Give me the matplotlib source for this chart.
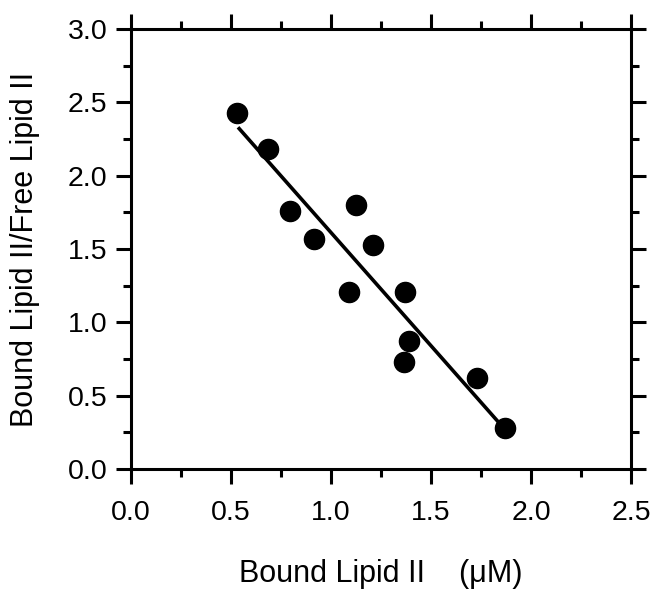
import matplotlib
matplotlib.use("Agg")
import matplotlib.pyplot as plt
from matplotlib.ticker import MultipleLocator

plt.rcParams['font.family'] = ['Liberation Sans', 'DejaVu Sans']

bound_x = [0.53, 0.685, 0.795, 0.915, 1.125, 1.21, 1.09, 1.37, 1.39, 1.365, 1.73, 1.87]
ratio_y = [2.43, 2.18, 1.76, 1.57, 1.80, 1.53, 1.21, 1.21, 0.87, 0.73, 0.62, 0.28]
fit_x = [0.535, 1.85]
fit_y = [2.33, 0.30]

fig = plt.figure(figsize=(6.5, 5.89), dpi=100)
ax = fig.add_axes([131/650, 1 - 469/589, 500/650, 440/589])

ax.plot(fit_x, fit_y, color='black', lw=2.6, solid_capstyle='butt', zorder=2)
ax.plot(bound_x, ratio_y, 'o', color='black', ms=14.5, zorder=3)

ax.set_xlim(0, 2.5)
ax.set_ylim(0, 3.0)
ax.xaxis.set_major_locator(MultipleLocator(0.5))
ax.xaxis.set_minor_locator(MultipleLocator(0.25))
ax.yaxis.set_major_locator(MultipleLocator(0.5))
ax.yaxis.set_minor_locator(MultipleLocator(0.25))
ax.xaxis.set_major_formatter(plt.FormatStrFormatter('%.1f'))
ax.yaxis.set_major_formatter(plt.FormatStrFormatter('%.1f'))

for s in ax.spines.values():
    s.set_linewidth(2.2)
ax.tick_params(which='both', direction='out', top=True, right=True, width=2.2,
               labelsize=20.5, labeltop=False, labelright=False)
ax.tick_params(which='major', length=11)
ax.tick_params(axis='x', which='major', pad=11)
ax.tick_params(axis='y', which='major', pad=6)
ax.tick_params(which='minor', length=5.5)

ax.set_xlabel('Bound Lipid II    (\u03bcM)', fontsize=22, labelpad=24)
ax.set_ylabel('Bound Lipid II/Free Lipid II', fontsize=22, labelpad=20)

fig.savefig('out.png', dpi=100)
